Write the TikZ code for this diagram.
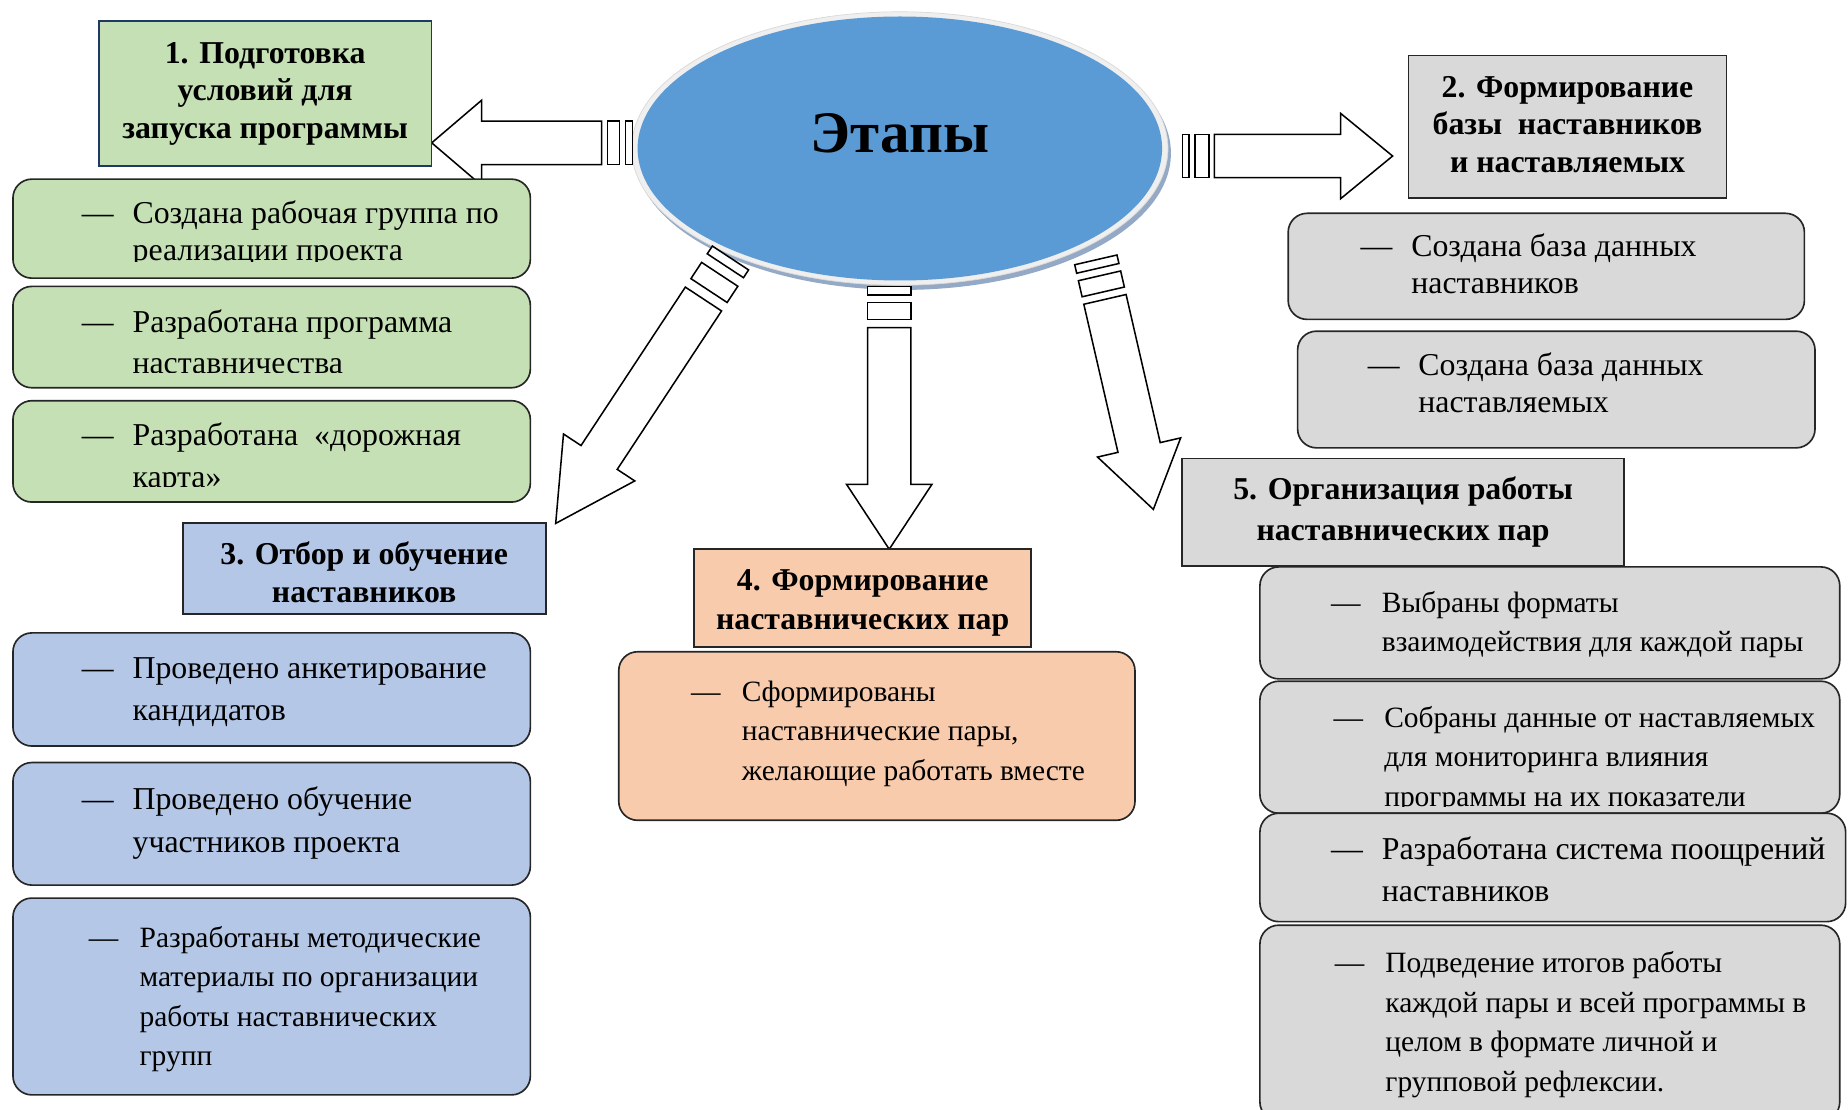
\documentclass[tikz,border=0pt]{standalone}
\usepackage{fontspec}
\setmainfont{Liberation Serif}
\usetikzlibrary{calc,shapes.geometric}
\definecolor{cgreen}{HTML}{C5E0B4}
\definecolor{cblue}{HTML}{B4C7E7}
\definecolor{cpeach}{HTML}{F8CBAD}
\definecolor{cgray}{HTML}{D9D9D9}
\definecolor{cell}{HTML}{5B9BD5}
\definecolor{crim}{HTML}{EFEFEF}
\definecolor{cshadow}{HTML}{93A9C6}
\definecolor{cnavy}{HTML}{1F3864}
\definecolor{cedge}{HTML}{262626}

% item text: [#1 font size] #2 = line skip, #3 = lines (separated by \\&)
\newcommand\itm[3][25]{{\fontsize{#1}{#2}\selectfont\begin{tabular}{@{}p{43pt}@{}l@{}}—&#3\end{tabular}}}

% striped block arrow: #1 tail, #2 tip, #3 stripe1, #4 gap1, #5 stripe2, #6 gap2, #7 head length
\newcommand\stripearrow[7]{%
  \path (#1) coordinate (sA)
        ($(#1)!#3pt!(#2)$) coordinate (sB)
        ($(sB)!#4pt!(#2)$) coordinate (sC)
        ($(sC)!#5pt!(#2)$) coordinate (sD)
        ($(sD)!#6pt!(#2)$) coordinate (sE)
        ($(#2)!#7pt!(#1)$) coordinate (sF);
  \draw[blockarrow] ($(sA)!18.4pt!90:(#2)$) -- ($(sA)!18.4pt!-90:(#2)$) -- ($(sB)!18.4pt!-90:(#2)$) -- ($(sB)!18.4pt!90:(#2)$) -- cycle;
  \draw[blockarrow] ($(sC)!18.4pt!90:(#2)$) -- ($(sC)!18.4pt!-90:(#2)$) -- ($(sD)!18.4pt!-90:(#2)$) -- ($(sD)!18.4pt!90:(#2)$) -- cycle;
  \draw[blockarrow] ($(sE)!18.4pt!90:(#2)$) -- ($(sF)!18.4pt!90:(#2)$) -- ($(sF)!36.2pt!90:(#2)$) -- (#2)
     -- ($(sF)!36.2pt!-90:(#2)$) -- ($(sF)!18.4pt!-90:(#2)$) -- ($(sE)!18.4pt!-90:(#2)$) -- cycle;
}

\tikzset{
  rbox/.style={draw=cedge, line width=1.4pt, rounded corners=16pt, inner sep=0pt},
  tbox/.style={draw=cedge, line width=1.4pt, inner sep=0pt},
  ttext/.style={align=center, inner sep=0pt, font=\fontsize{27}{32}\selectfont\bfseries},
  itext/.style={anchor=west, inner sep=0pt},
  blockarrow/.style={draw=black, fill=white, line width=1.3pt, line join=miter},
}

\begin{document}
\begin{tikzpicture}[x=1pt, y=-1pt]
\useasboundingbox (0,0) rectangle (1568,941);

% ---------- central ellipse ----------
\fill[cshadow] (766,130) ellipse [x radius=227.5, y radius=116];
\filldraw[fill=crim, draw=gray!30, line width=0.6pt] (763.5,126) ellipse [x radius=227.5, y radius=116];
\node[ellipse, fill=cell, inner sep=0pt, minimum width=445pt, minimum height=224pt] (etapy) at (763.5,126) {};
\node[font=\fontsize{50}{60}\selectfont\bfseries, inner sep=0pt] (etapyt) at (763.5,113) {Этапы};

% ---------- arrow end points ----------
\coordinate (a1tail) at (536.5,121.2);  \coordinate (a1tip) at (366.3,121.2);
\coordinate (a2tail) at (1003.2,132.4); \coordinate (a2tip) at (1181.6,132.4);
\coordinate (a3tail) at (619.8,218.9);  \coordinate (a3tip) at (471.5,444.1);
\coordinate (a4tail) at (754.5,243.2);  \coordinate (a4tip) at (754.5,466);
\coordinate (a5tail) at (929.8,220.5);  \coordinate (a5tip) at (978.6,432.2);

\stripearrow{a1tail}{a1tip}{5.6}{5.4}{10.2}{4.8}{42.4}
\stripearrow{a2tail}{a2tip}{5.6}{5.2}{11.8}{4.5}{44.1}
\stripearrow{a3tail}{a3tip}{7.9}{8.7}{16.5}{8.6}{67}
\stripearrow{a4tail}{a4tip}{7.1}{6.5}{14.2}{7}{55}
\stripearrow{a5tail}{a5tip}{7.4}{6.5}{14}{6.5}{53.9}

% ---------- title boxes ----------
\node[tbox, fill=cgreen, draw=cnavy, minimum width=282pt, minimum height=123pt,
      label={[ttext]center:1. Подготовка\\условий для\\запуска программы}] (t1) at (225,79.5) {};
\node[tbox, fill=cgray, minimum width=270pt, minimum height=121pt,
      label={[ttext, yshift=2pt]center:2. Формирование\\базы\ \ наставников\\и наставляемых}] (t2) at (1330,107.5) {};
\node[tbox, fill=cblue, minimum width=308pt, minimum height=77pt,
      label={[ttext, yshift=-3pt]center:3. Отбор и обучение\\наставников}] (t3) at (309,482.5) {};
\node[tbox, fill=cpeach, minimum width=286pt, minimum height=83pt,
      label={[ttext, yshift=-4pt, font=\fontsize{27}{33}\selectfont\bfseries]center:4. Формирование\\наставнических пар}] (t4) at (732,507.5) {};
\node[tbox, fill=cgray, minimum width=375pt, minimum height=91pt,
      label={[ttext, font=\fontsize{27}{35}\selectfont\bfseries]center:5. Организация работы\\наставнических пар}] (t5) at (1190.5,434.5) {};

% ---------- green items ----------
\node[rbox, fill=cgreen, minimum width=439pt, minimum height=84pt] (g1) at (230.5,194) {};
\begin{scope}
  \clip (11,154) rectangle (450,222);
  \node[itext] (g1t) at ($(g1.west)+(59,5.3)$) {\itm[27]{31}{Создана рабочая группа по\\&реализации проекта}};
\end{scope}
\node[rbox, fill=cgreen, minimum width=439pt, minimum height=86pt] (g2) at (230.5,286) {};
\begin{scope}
  \clip (11,245) rectangle (450,316);
  \node[itext] (g2t) at ($(g2.west)+(59,6.5)$) {\itm[27]{35}{Разработана программа\\&наставничества}};
\end{scope}
\node[rbox, fill=cgreen, minimum width=439pt, minimum height=86pt] (g3) at (230.5,383) {};
\begin{scope}
  \clip (11,342) rectangle (450,413);
  \node[itext] (g3t) at ($(g3.west)+(59,5.8)$) {\itm[27]{36}{Разработана\ \ «дорожная\\&карта»}};
\end{scope}

% ---------- grey items (stage 2) ----------
\node[rbox, fill=cgray, minimum width=438pt, minimum height=90pt] (r1) at (1312,226) {};
\node[itext] (r1t) at ($(r1.west)+(62,1.3)$) {\itm[27]{31}{Создана база данных\\&наставников}};
\node[rbox, fill=cgray, minimum width=439pt, minimum height=99pt] (r2) at (1320.5,330.5) {};
\node[itext] (r2t) at ($(r2.west)+(60,-2.2)$) {\itm[27]{31}{Создана база данных\\&наставляемых}};

% ---------- blue items ----------
\node[rbox, fill=cblue, minimum width=439pt, minimum height=96pt] (b1) at (230.5,585) {};
\node[itext] (b1t) at ($(b1.west)+(59,1.5)$) {\itm[27]{35}{Проведено анкетирование\\&кандидатов}};
\node[rbox, fill=cblue, minimum width=439pt, minimum height=104pt] (b2) at (230.5,699) {};
\node[itext] (b2t) at ($(b2.west)+(59,-1.2)$) {\itm[27]{36}{Проведено обучение\\&участников проекта}};
\node[rbox, fill=cblue, minimum width=439pt, minimum height=167pt] (b3) at (230.5,845.5) {};
\node[itext] (b3t) at ($(b3.west)+(65,1.8)$) {\itm{33.3}{Разработаны методические\\&материалы по организации\\&работы наставнических\\&групп}};

% ---------- peach item ----------
\node[rbox, fill=cpeach, minimum width=438pt, minimum height=143pt] (p1) at (744,624.5) {};
\node[itext] (p1t) at ($(p1.west)+(62,-2.7)$) {\itm{33.5}{Сформированы\\&наставнические пары,\\&желающие работать вместе}};

% ---------- grey items (stage 5) ----------
\node[rbox, fill=cgray, minimum width=492pt, minimum height=95pt] (s1) at (1315,528.5) {};
\node[itext] (s1t) at ($(s1.west)+(61,1.4)$) {\itm{33}{Выбраны форматы\\&взаимодействия для каждой пары}};
\node[rbox, fill=cgray, minimum width=492pt, minimum height=112pt] (s2) at (1315,634) {};
\begin{scope}
  \clip (1069,580) rectangle (1561,684);
  \node[itext] (s2t) at ($(s2.west)+(63,9.8)$) {\itm{33.5}{Собраны данные от наставляемых\\&для мониторинга влияния\\&программы на их показатели}};
\end{scope}
\node[rbox, fill=cgray, minimum width=497pt, minimum height=92pt] (s3) at (1317.5,736) {};
\node[itext] (s3t) at ($(s3.west)+(61,3.8)$) {\itm[27]{36}{Разработана система поощрений\\&наставников}};
\node[rbox, fill=cgray, minimum width=492pt, minimum height=166pt] (s4) at (1315,868) {};
\node[itext] (s4t) at ($(s4.west)+(64,0.8)$) {\itm{33.7}{Подведение итогов работы\\&каждой пары и всей программы в\\&целом в формате личной и\\&групповой рефлексии.}};
\end{tikzpicture}
\end{document}
